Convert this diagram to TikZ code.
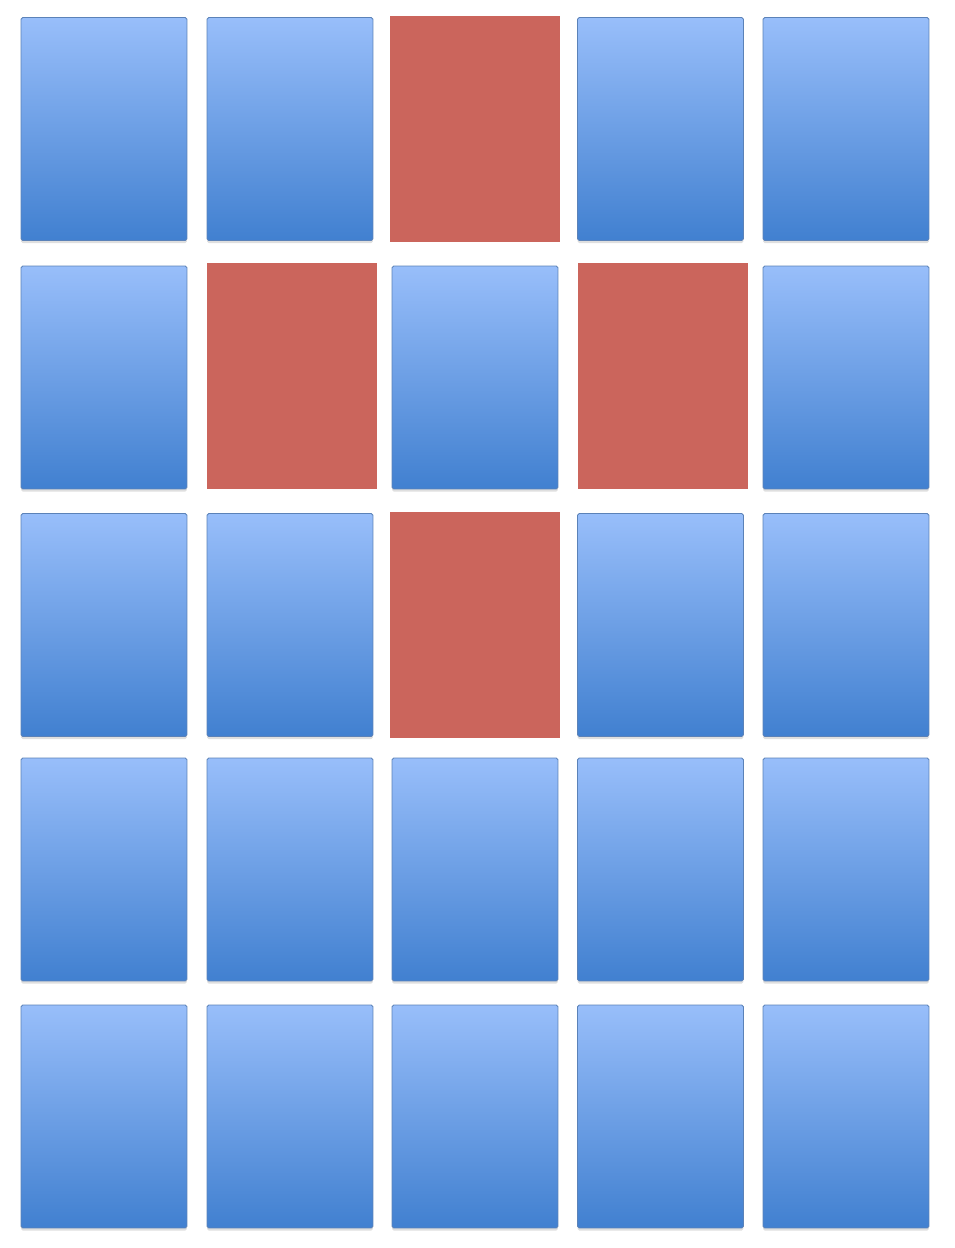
\documentclass[tikz,border=0pt]{standalone}
\usepackage{tikz}
\usetikzlibrary{shadows,positioning}
\definecolor{tiletop}{HTML}{98BEFA}
\definecolor{tilebot}{HTML}{4180D0}
\definecolor{tileedge}{HTML}{5B82B8}
\definecolor{hitred}{HTML}{CB655C}

\begin{document}
\begin{tikzpicture}[
			x=0.02cm,y=-0.02cm,
			tile/.style={draw=tileedge,line width=0.5pt,top color=tiletop,bottom color=tilebot,rounded corners=1pt,minimum width=3.32cm,minimum height=4.46cm,inner sep=0pt,drop shadow={opacity=0.25,shadow xshift=0pt,shadow yshift=-1.5pt}},
			hit/.style={fill=hitred,minimum width=3.4cm,minimum height=4.52cm,inner sep=0pt}
			]
			\useasboundingbox (0,0) rectangle (954,1248);
			% row 1
			\node[tile] (r1c1) at (104,129) {};
			\node[tile] (r1c2) at (290,129) {};
			\node[hit]  (r1c3) at (475,129) {};
			\node[tile] (r1c4) at (660.5,129) {};
			\node[tile] (r1c5) at (846,129) {};
			% row 2
			\node[tile] (r2c1) at (104,377.5) {};
			\node[hit]  (r2c2) at (292,376) {};
			\node[tile] (r2c3) at (475,377.5) {};
			\node[hit]  (r2c4) at (663,376) {};
			\node[tile] (r2c5) at (846,377.5) {};
			% row 3
			\node[tile] (r3c1) at (104,625) {};
			\node[tile] (r3c2) at (290,625) {};
			\node[hit]  (r3c3) at (475,625) {};
			\node[tile] (r3c4) at (660.5,625) {};
			\node[tile] (r3c5) at (846,625) {};
			% row 4
			\node[tile] (r4c1) at (104,869.5) {};
			\node[tile] (r4c2) at (290,869.5) {};
			\node[tile] (r4c3) at (475,869.5) {};
			\node[tile] (r4c4) at (660.5,869.5) {};
			\node[tile] (r4c5) at (846,869.5) {};
			% row 5
			\node[tile] (r5c1) at (104,1116.5) {};
			\node[tile] (r5c2) at (290,1116.5) {};
			\node[tile] (r5c3) at (475,1116.5) {};
			\node[tile] (r5c4) at (660.5,1116.5) {};
			\node[tile] (r5c5) at (846,1116.5) {};
		\end{tikzpicture}
\end{document}
